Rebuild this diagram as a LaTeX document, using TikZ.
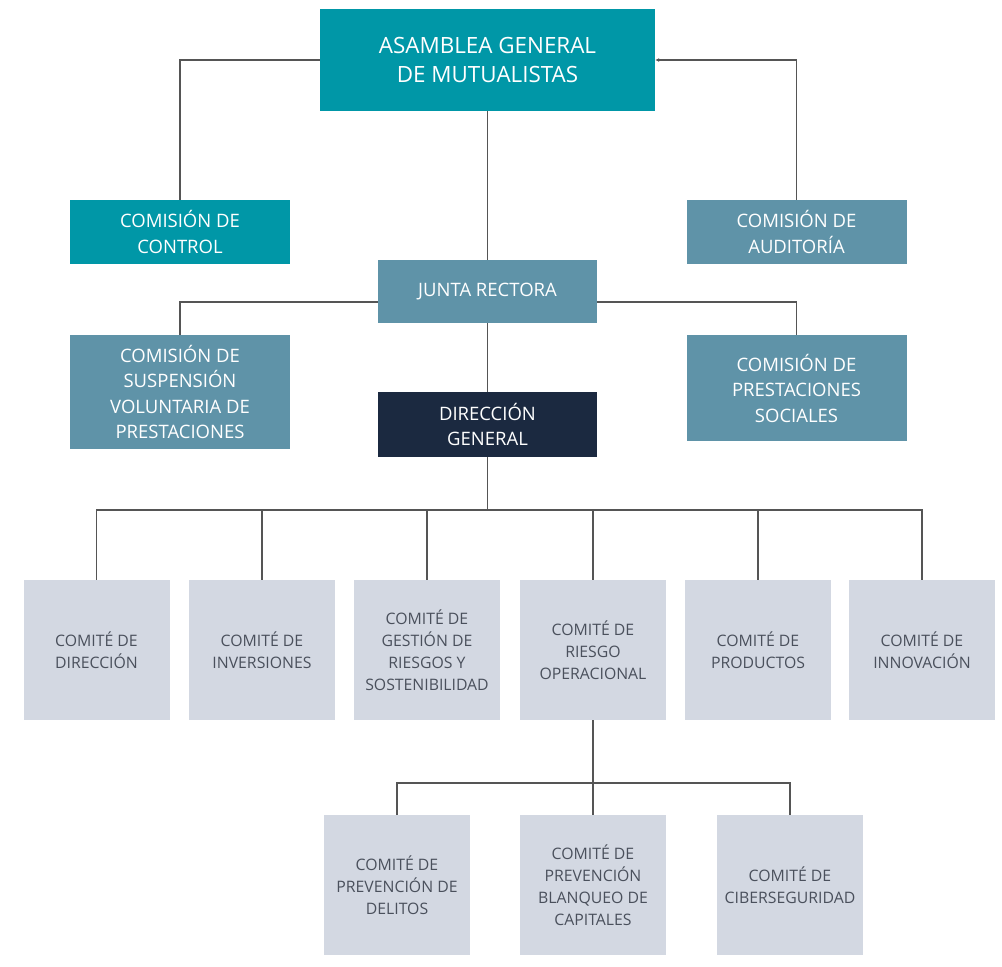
\documentclass[tikz,border=0pt]{standalone}
\usepackage{fontspec}
\setmainfont{Open Sans}
\usepackage{tikz}
\usetikzlibrary{arrows.meta}
\definecolor{tealbox}{HTML}{0097A7}
\definecolor{steelbox}{HTML}{5F93A8}
\definecolor{navybox}{HTML}{1B2940}
\definecolor{greybox}{HTML}{D3D8E2}
\definecolor{greytext}{HTML}{4A505C}
\definecolor{linegrey}{HTML}{555555}
\tikzstyle{organ} = [rectangle, minimum width=220pt, minimum height=64pt, text centered, align=center, text=white, inner sep=2pt, font=\fontsize{18.5}{25.5}\selectfont]
\tikzstyle{comite} = [rectangle, fill=greybox, minimum width=146pt, minimum height=140pt, text centered, align=center, text=greytext, inner sep=2pt, font=\fontsize{15.8}{22}\selectfont]
\tikzstyle{link} = [draw=linegrey, line width=1.4pt]
\tikzstyle{arrow} = [link, -{Latex[length=4pt,width=4pt]}]

\begin{document}
\begin{tikzpicture}[x=1pt,y=-1pt]
\useasboundingbox (0,0) rectangle (1002,967);

% organos de gobierno
\node[organ, fill=tealbox, minimum width=335pt, minimum height=102pt, font=\fontsize{22.4}{29}\selectfont] (asamblea) at (487.5,60) {ASAMBLEA GENERAL\\DE MUTUALISTAS};
\node[organ, fill=tealbox] (control) at (180,232) {COMISIÓN DE\\CONTROL};
\node[organ, fill=steelbox] (auditoria) at (796.5,232) {COMISIÓN DE\\AUDITORÍA};
\node[organ, fill=steelbox, minimum width=219pt, minimum height=63pt] (junta) at (487.5,291.5) {JUNTA RECTORA};
\node[organ, fill=steelbox, minimum height=114pt] (suspension) at (180,392) {COMISIÓN DE\\SUSPENSIÓN\\VOLUNTARIA DE\\PRESTACIONES};
\node[organ, fill=steelbox, minimum height=106pt] (prestaciones) at (796.5,388) {COMISIÓN DE\\PRESTACIONES\\SOCIALES};
\node[organ, fill=navybox, minimum width=219pt, minimum height=65pt] (direccion) at (487.5,424.5) {DIRECCIÓN\\GENERAL};

% comites
\node[comite] (cdir) at (96.5,650) {COMITÉ DE\\DIRECCIÓN};
\node[comite] (cinv) at (262,650) {COMITÉ DE\\INVERSIONES};
\node[comite] (cries) at (427,650) {COMITÉ DE\\GESTIÓN DE\\RIESGOS Y\\SOSTENIBILIDAD};
\node[comite] (cope) at (593,650) {COMITÉ DE\\RIESGO\\OPERACIONAL};
\node[comite] (cprod) at (758,650) {COMITÉ DE\\PRODUCTOS};
\node[comite] (cinn) at (922,650) {COMITÉ DE\\INNOVACIÓN};

\node[comite] (cdel) at (397,885) {COMITÉ DE\\PREVENCIÓN DE\\DELITOS};
\node[comite] (cblan) at (593,885) {COMITÉ DE\\PREVENCIÓN\\BLANQUEO DE\\CAPITALES};
\node[comite] (ciber) at (790,885) {COMITÉ DE\\CIBERSEGURIDAD};

\coordinate (bus) at (0,510);
\coordinate (subbus) at (0,783);

% conexiones
\draw[link] (asamblea.west) -| (control.north);
\draw[arrow] (auditoria.north) |- (asamblea.east);
\draw[link] (asamblea.south) -- (junta.north);
\draw[link] (junta.west |- 0,302) -| (suspension.north);
\draw[link] (junta.east |- 0,302) -| (prestaciones.north);
\draw[link] (junta.south) -- (direccion.north);
\draw[link] (direccion.south) -- (direccion.south |- bus);
\draw[link] (cdir.north) -- (cdir.north |- bus) -- (cinn.north |- bus) -- (cinn.north);
\foreach \c in {cinv,cries,cope,cprod}
  \draw[link] (\c.north) -- (\c.north |- bus);
\draw[link] (cope.south) -- (cope.south |- subbus);
\draw[link] (cdel.north) -- (cdel.north |- subbus) -- (ciber.north |- subbus) -- (ciber.north);
\draw[link] (cblan.north) -- (cblan.north |- subbus);
\end{tikzpicture}
\end{document}
